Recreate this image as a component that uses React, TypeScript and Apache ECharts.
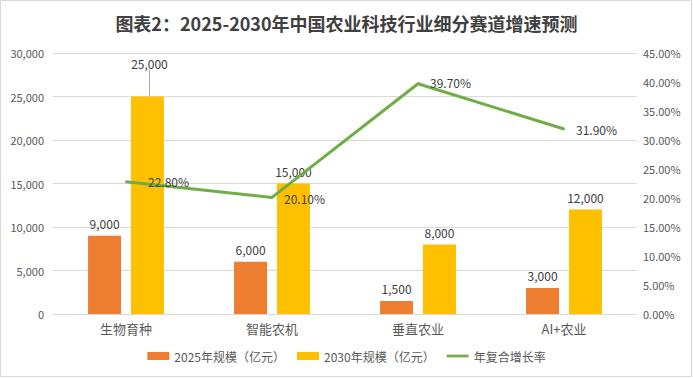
import React, { useEffect, useRef } from "react";
import * as echarts from "echarts";

const titleText = "图表2：2025-2030年中国农业科技行业细分赛道增速预测";
const categories = ["生物育种", "智能农机", "垂直农业", "AI+农业"];
const size2025 = [9000, 6000, 1500, 3000];
const size2030 = [25000, 15000, 8000, 12000];
const cagr = [22.8, 20.1, 39.7, 31.9];
const seriesNames = ["2025年规模（亿元）", "2030年规模（亿元）", "年复合增长率"];

const FONT = "'Noto Sans CJK SC', 'Noto Sans', sans-serif";
const TXT = "#595959";

export default function App() {
  const ref = useRef<HTMLDivElement>(null);
  useEffect(() => {
    document.body.style.margin = "0";
    const chart = echarts.init(ref.current!, null, { renderer: "svg" });
    const fmt = (v: number) => v.toLocaleString("en-US");
    chart.setOption({
      animation: false,
      backgroundColor: "#ffffff",
      textStyle: { fontFamily: FONT },
      title: {
        text: titleText,
        left: "center",
        top: 9,
        textStyle: { fontSize: 18, fontWeight: "bold", color: "#404040", fontFamily: FONT },
      },
      graphic: [
        {
          type: "rect",
          shape: { x: 0.5, y: 0.5, width: 691, height: 376 },
          style: { fill: "none", stroke: "#D9D9D9", lineWidth: 1 },
          silent: true,
          z: -1,
        },
      ],
      legend: {
        bottom: 12,
        left: "center",
        itemWidth: 22,
        itemHeight: 8,
        itemGap: 12,
        textStyle: { fontSize: 12, color: TXT, fontFamily: FONT },
        data: [
          { name: seriesNames[0], icon: "rect" },
          { name: seriesNames[1], icon: "rect" },
          { name: seriesNames[2], icon: "path://M0,0 H24 V3 H0 Z", itemStyle: { color: "#70AD47" } },
        ],
      },
      grid: { left: 53, right: 56, top: 53, bottom: 65 },
      xAxis: {
        type: "category",
        data: categories,
        axisTick: { show: false },
        axisLine: { lineStyle: { color: "#D9D9D9" } },
        axisLabel: { color: TXT, fontSize: 13, margin: 8, fontFamily: FONT },
      },
      yAxis: [
        {
          type: "value",
          min: 0,
          max: 30000,
          interval: 5000,
          axisLine: { show: false },
          axisTick: { show: false },
          splitLine: { lineStyle: { color: "#D9D9D9" } },
          axisLabel: { color: TXT, fontSize: 11, margin: 9, formatter: (v: number) => fmt(v) },
        },
        {
          type: "value",
          min: 0,
          max: 45,
          interval: 5,
          axisLine: { show: false },
          axisTick: { show: false },
          splitLine: { show: false },
          axisLabel: { color: TXT, fontSize: 11, margin: 6, formatter: (v: number) => v.toFixed(2) + "%" },
        },
      ],
      series: [
        {
          name: seriesNames[0],
          type: "bar",
          data: size2025,
          barWidth: 33,
          barGap: "30%",
          itemStyle: { color: "#ED7D31" },
          label: {
            show: true,
            position: "top",
            distance: 6,
            color: "#404040",
            fontSize: 12,
            formatter: (p: any) => fmt(p.value),
          },
        },
        {
          name: seriesNames[1],
          type: "bar",
          data: size2030.map((v, i) =>
            i === 0
              ? { value: v, labelLine: { show: true, lineStyle: { color: "#A6A6A6", width: 1 } } }
              : { value: v, labelLine: { show: false } }
          ),
          barWidth: 33,
          itemStyle: { color: "#FFC000" },
          label: {
            show: true,
            position: "top",
            distance: 6,
            color: "#404040",
            fontSize: 12,
            formatter: (p: any) => fmt(p.value),
          },
          labelLayout: (p: any) => (p.dataIndex === 0 ? { dy: -21, dx: 2 } : {}),
        },
        {
          name: seriesNames[2],
          type: "line",
          yAxisIndex: 1,
          data: cagr,
          symbol: "circle",
          symbolSize: 2,
          showSymbol: true,
          lineStyle: { color: "#70AD47", width: 3 },
          itemStyle: { color: "#70AD47" },
          label: {
            show: true,
            position: "right",
            distance: 11,
            color: "#404040",
            fontSize: 12,
            formatter: (p: any) => p.value.toFixed(2) + "%",
          },
          labelLayout: (p: any) =>
            p.dataIndex === 0 ? { dx: 10, hideOverlap: false } : { dy: p.dataIndex === 2 ? -1 : 1, hideOverlap: false },
          z: 5,
        },
      ],
    });
    return () => chart.dispose();
  }, []);
  return <div ref={ref} style={{ width: 693, height: 379, position: "absolute", left: 0, top: 0 }} />;
}
